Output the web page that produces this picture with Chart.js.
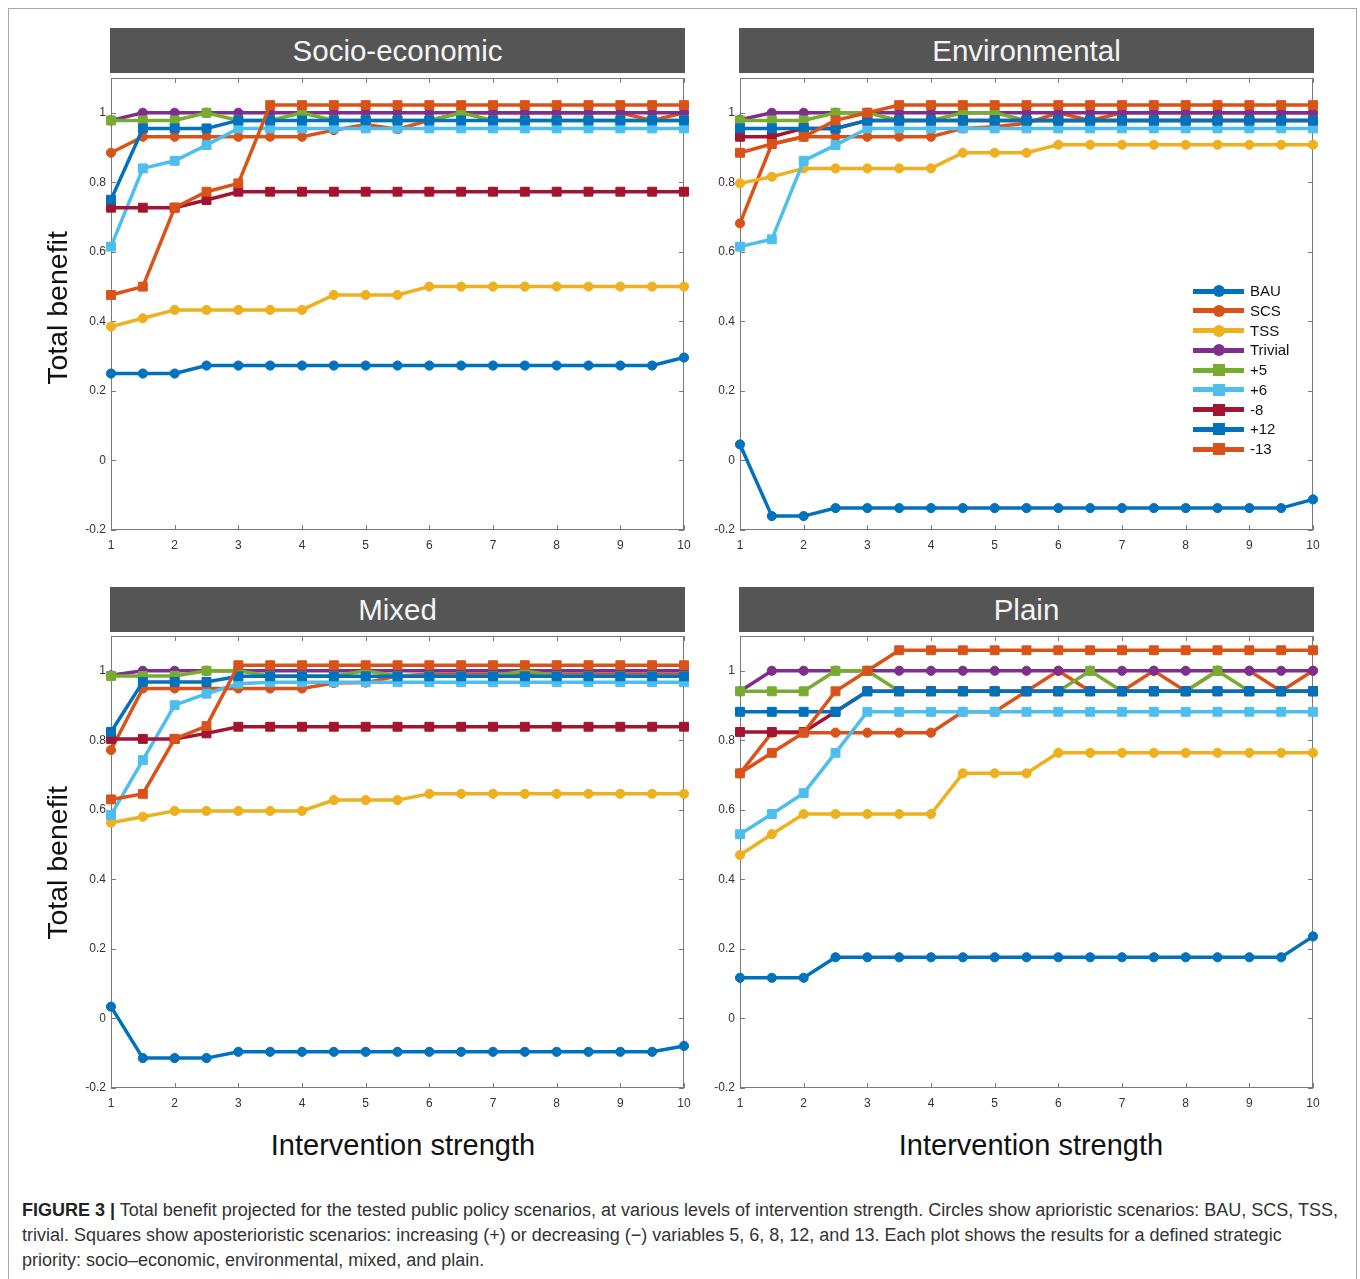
<!DOCTYPE html>
<html>
<head>
<meta charset="utf-8">
<script src="https://cdn.jsdelivr.net/npm/chart.js@4.4.1/dist/chart.umd.min.js"></script>
<style>
  body { margin: 0; background: #fff; font-family: "Liberation Sans", Arial, sans-serif; }
  #fig { position: relative; width: 1360px; height: 1279px; overflow: hidden; }
  .frame { position: absolute; left: 8px; top: 8px; width: 1347px; height: 1290px; border: 1px solid #a8a8a8; }
  .bar { position: absolute; height: 45px; background: #555; color: #f4f4f4; font-size: 29.5px; line-height: 45px; text-align: center; }
  .panel { position: absolute; width: 638px; height: 490px; }
  .ytitle { position: absolute; width: 300px; height: 34px; line-height: 34px; font-size: 28.5px; text-align: center; color: #111; transform: rotate(-90deg); white-space: nowrap; }
  .xtitle { position: absolute; width: 400px; height: 34px; line-height: 34px; font-size: 29px; text-align: center; color: #111; white-space: nowrap; }
  .legend { position: absolute; left: 1193px; top: 281px; }
  .legend .item { position: relative; height: 19.75px; }
  .legend .line { position: absolute; left: 0; top: 7.5px; width: 51px; height: 5px; }
  .legend .mk { position: absolute; left: 20px; top: 4px; width: 12px; height: 12px; }
  .legend .txt { position: absolute; left: 57px; top: 0; font-size: 15px; line-height: 20px; color: #111; white-space: nowrap; }
  .caption { position: absolute; left: 22px; top: 1198px; font-size: 18px; line-height: 25px; color: #333; white-space: nowrap; }
  .caption b { color: #222; }
</style>
</head>
<body>
<div id="fig">
  <div class="frame"></div>

  <div class="bar" style="left:110px;top:28px;width:575px;">Socio-economic</div>
  <div class="bar" style="left:739px;top:28px;width:575px;">Environmental</div>
  <div class="bar" style="left:110px;top:587px;width:575px;">Mixed</div>
  <div class="bar" style="left:739px;top:587px;width:575px;">Plain</div>

  <div class="panel" style="left:66px;top:70px;"><canvas id="socio" width="638" height="490"></canvas></div>
  <div class="panel" style="left:695px;top:70px;"><canvas id="env" width="638" height="490"></canvas></div>
  <div class="panel" style="left:66px;top:628px;"><canvas id="mixed" width="638" height="490"></canvas></div>
  <div class="panel" style="left:695px;top:628px;"><canvas id="plain" width="638" height="490"></canvas></div>

  <div class="ytitle" style="left:-93px;top:291px;">Total benefit</div>
  <div class="ytitle" style="left:-93px;top:846px;">Total benefit</div>
  <div class="xtitle" style="left:203px;top:1128px;">Intervention strength</div>
  <div class="xtitle" style="left:831px;top:1128px;">Intervention strength</div>

  <div class="legend" id="legend"></div>

  <div class="caption">
    <b>FIGURE 3 |</b> Total benefit projected for the tested public policy scenarios, at various levels of intervention strength. Circles show aprioristic scenarios: BAU, SCS, TSS,<br>
    trivial. Squares show aposterioristic scenarios: increasing (+) or decreasing (&minus;) variables 5, 6, 8, 12, and 13. Each plot shows the results for a defined strategic<br>
    priority: socio&ndash;economic, environmental, mixed, and plain.
  </div>
</div>

<script>
// intervention strength levels (x) and axis ticks
const xValues = [1, 1.5, 2, 2.5, 3, 3.5, 4, 4.5, 5, 5.5, 6, 6.5, 7, 7.5, 8, 8.5, 9, 9.5, 10];
const xTicks = [1, 2, 3, 4, 5, 6, 7, 8, 9, 10];
const yTicks = [-0.2, 0, 0.2, 0.4, 0.6, 0.8, 1];
const yTickLabels = ["-0.2", "0", "0.2", "0.4", "0.6", "0.8", "1"];

const seriesNames = ["BAU", "SCS", "TSS", "Trivial", "+5", "+6", "-8", "+12", "-13"];
const seriesColors = ["#0072BD", "#D95319", "#EDB120", "#7E2F8E", "#77AC30", "#4DBEEE", "#A2142F", "#0072BD", "#D95319"];
const seriesMarkers = ["circle", "circle", "circle", "circle", "rect", "rect", "rect", "rect", "rect"];

// Socio-economic
const socioBau     = [0.25, 0.25, 0.25, 0.273, 0.273, 0.273, 0.273, 0.273, 0.273, 0.273, 0.273, 0.273, 0.273, 0.273, 0.273, 0.273, 0.273, 0.273, 0.296];
const socioScs     = [0.885, 0.931, 0.931, 0.931, 0.931, 0.931, 0.931, 0.95, 0.966, 0.953, 0.978, 1.0, 1.0, 1.0, 1.0, 1.0, 1.0, 0.978, 1.0];
const socioTss     = [0.385, 0.409, 0.433, 0.433, 0.433, 0.433, 0.433, 0.476, 0.476, 0.476, 0.5, 0.5, 0.5, 0.5, 0.5, 0.5, 0.5, 0.5, 0.5];
const socioTrivial = [0.978, 1, 1, 1, 1, 1, 1, 1, 1, 1, 1, 1, 1, 1, 1, 1, 1, 1, 1];
const socioP5      = [0.978, 0.978, 0.978, 1.0, 0.978, 0.978, 1.0, 0.978, 0.978, 0.978, 0.978, 1.0, 0.978, 0.978, 0.978, 0.978, 0.978, 0.978, 0.978];
const socioP6      = [0.615, 0.84, 0.862, 0.907, 0.955, 0.955, 0.955, 0.955, 0.955, 0.955, 0.955, 0.955, 0.955, 0.955, 0.955, 0.955, 0.955, 0.955, 0.955];
const socioM8      = [0.727, 0.727, 0.727, 0.749, 0.773, 0.773, 0.773, 0.773, 0.773, 0.773, 0.773, 0.773, 0.773, 0.773, 0.773, 0.773, 0.773, 0.773, 0.773];
const socioP12     = [0.75, 0.955, 0.955, 0.955, 0.978, 0.978, 0.978, 0.978, 0.978, 0.978, 0.978, 0.978, 0.978, 0.978, 0.978, 0.978, 0.978, 0.978, 0.978];
const socioM13     = [0.476, 0.5, 0.727, 0.773, 0.797, 1.022, 1.022, 1.022, 1.022, 1.022, 1.022, 1.022, 1.022, 1.022, 1.022, 1.022, 1.022, 1.022, 1.022];

// Environmental
const envBau     = [0.046, -0.16, -0.16, -0.137, -0.137, -0.137, -0.137, -0.137, -0.137, -0.137, -0.137, -0.137, -0.137, -0.137, -0.137, -0.137, -0.137, -0.137, -0.112];
const envScs     = [0.682, 0.91, 0.931, 0.931, 0.931, 0.931, 0.931, 0.955, 0.96, 0.97, 1.0, 0.978, 1.0, 1.0, 1.0, 1.0, 1.0, 1.0, 1.0];
const envTss     = [0.797, 0.816, 0.84, 0.84, 0.84, 0.84, 0.84, 0.885, 0.885, 0.885, 0.908, 0.908, 0.908, 0.908, 0.908, 0.908, 0.908, 0.908, 0.908];
const envTrivial = [0.98, 1, 1, 1, 1, 1, 1, 1, 1, 1, 1, 1, 1, 1, 1, 1, 1, 1, 1];
const envP5      = [0.978, 0.978, 0.978, 1.0, 1.0, 0.978, 0.978, 1.0, 1.0, 0.978, 0.978, 0.978, 0.978, 0.978, 0.978, 0.978, 0.978, 0.978, 0.978];
const envP6      = [0.615, 0.636, 0.862, 0.907, 0.955, 0.955, 0.955, 0.955, 0.955, 0.955, 0.955, 0.955, 0.955, 0.955, 0.955, 0.955, 0.955, 0.955, 0.955];
const envM8      = [0.931, 0.931, 0.955, 0.955, 0.978, 0.978, 0.978, 0.978, 0.978, 0.978, 0.978, 0.978, 0.978, 0.978, 0.978, 0.978, 0.978, 0.978, 0.978];
const envP12     = [0.955, 0.955, 0.955, 0.955, 0.978, 0.978, 0.978, 0.978, 0.978, 0.978, 0.978, 0.978, 0.978, 0.978, 0.978, 0.978, 0.978, 0.978, 0.978];
const envM13     = [0.885, 0.91, 0.931, 0.978, 1.0, 1.022, 1.022, 1.022, 1.022, 1.022, 1.022, 1.022, 1.022, 1.022, 1.022, 1.022, 1.022, 1.022, 1.022];

// Mixed
const mixedBau     = [0.034, -0.114, -0.114, -0.114, -0.096, -0.096, -0.096, -0.096, -0.096, -0.096, -0.096, -0.096, -0.096, -0.096, -0.096, -0.096, -0.096, -0.096, -0.079];
const mixedScs     = [0.772, 0.949, 0.949, 0.949, 0.949, 0.949, 0.949, 0.965, 0.966, 0.985, 0.99, 0.99, 0.99, 0.99, 0.99, 0.99, 0.99, 0.99, 0.99];
const mixedTss     = [0.563, 0.58, 0.597, 0.597, 0.597, 0.597, 0.597, 0.628, 0.628, 0.628, 0.646, 0.646, 0.646, 0.646, 0.646, 0.646, 0.646, 0.646, 0.646];
const mixedTrivial = [0.987, 1, 1, 1, 1, 1, 1, 1, 1, 1, 1, 1, 1, 1, 1, 1, 1, 1, 1];
const mixedP5      = [0.985, 0.985, 0.985, 1.0, 1.0, 0.985, 0.985, 0.985, 1.0, 0.985, 0.985, 0.985, 0.985, 1.0, 0.985, 0.985, 0.985, 0.985, 0.985];
const mixedP6      = [0.585, 0.743, 0.901, 0.934, 0.963, 0.967, 0.967, 0.967, 0.967, 0.967, 0.967, 0.967, 0.967, 0.967, 0.967, 0.967, 0.967, 0.967, 0.967];
const mixedM8      = [0.804, 0.804, 0.804, 0.82, 0.839, 0.839, 0.839, 0.839, 0.839, 0.839, 0.839, 0.839, 0.839, 0.839, 0.839, 0.839, 0.839, 0.839, 0.839];
const mixedP12     = [0.824, 0.968, 0.968, 0.968, 0.984, 0.984, 0.984, 0.984, 0.984, 0.984, 0.984, 0.984, 0.984, 0.984, 0.984, 0.984, 0.984, 0.984, 0.984];
const mixedM13     = [0.63, 0.646, 0.804, 0.841, 1.016, 1.016, 1.016, 1.016, 1.016, 1.016, 1.016, 1.016, 1.016, 1.016, 1.016, 1.016, 1.016, 1.016, 1.016];

// Plain
const plainBau     = [0.117, 0.117, 0.117, 0.176, 0.176, 0.176, 0.176, 0.176, 0.176, 0.176, 0.176, 0.176, 0.176, 0.176, 0.176, 0.176, 0.176, 0.176, 0.236];
const plainScs     = [0.705, 0.822, 0.822, 0.822, 0.822, 0.822, 0.822, 0.882, 0.882, 0.941, 1.0, 0.941, 0.941, 1.0, 0.941, 1.0, 1.0, 0.941, 1.0];
const plainTss     = [0.47, 0.53, 0.588, 0.588, 0.588, 0.588, 0.588, 0.705, 0.705, 0.705, 0.764, 0.764, 0.764, 0.764, 0.764, 0.764, 0.764, 0.764, 0.764];
const plainTrivial = [0.941, 1, 1, 1, 1, 1, 1, 1, 1, 1, 1, 1, 1, 1, 1, 1, 1, 1, 1];
const plainP5      = [0.941, 0.941, 0.941, 1.0, 1.0, 0.941, 0.941, 0.941, 0.941, 0.941, 0.941, 1.0, 0.941, 0.941, 0.941, 1.0, 0.941, 0.941, 0.941];
const plainP6      = [0.53, 0.588, 0.648, 0.764, 0.882, 0.882, 0.882, 0.882, 0.882, 0.882, 0.882, 0.882, 0.882, 0.882, 0.882, 0.882, 0.882, 0.882, 0.882];
const plainM8      = [0.824, 0.824, 0.824, 0.882, 0.941, 0.941, 0.941, 0.941, 0.941, 0.941, 0.941, 0.941, 0.941, 0.941, 0.941, 0.941, 0.941, 0.941, 0.941];
const plainP12     = [0.882, 0.882, 0.882, 0.882, 0.941, 0.941, 0.941, 0.941, 0.941, 0.941, 0.941, 0.941, 0.941, 0.941, 0.941, 0.941, 0.941, 0.941, 0.941];
const plainM13     = [0.705, 0.764, 0.822, 0.941, 1.0, 1.059, 1.059, 1.059, 1.059, 1.059, 1.059, 1.059, 1.059, 1.059, 1.059, 1.059, 1.059, 1.059, 1.059];

const FONT = "'Liberation Sans', Arial, sans-serif";

// matlab-ish box with inward ticks on all four sides
const boxPlugin = {
  id: "matlabBox",
  beforeDatasetsDraw(chart) {
    const { ctx, chartArea: a, scales } = chart;
    const tick = 5;
    ctx.save();
    ctx.strokeStyle = "#7a7a7a";
    ctx.lineWidth = 1;
    ctx.strokeRect(a.left + 0.5, a.top + 0.5, a.right - a.left - 1, a.bottom - a.top - 1);
    ctx.beginPath();
    xTicks.forEach((v) => {
      const px = Math.round(scales.x.getPixelForValue(v)) + 0.5;
      ctx.moveTo(px, a.bottom); ctx.lineTo(px, a.bottom - tick);
      ctx.moveTo(px, a.top); ctx.lineTo(px, a.top + tick);
    });
    yTicks.forEach((v) => {
      const py = Math.round(scales.y.getPixelForValue(v)) + 0.5;
      ctx.moveTo(a.left, py); ctx.lineTo(a.left + tick, py);
      ctx.moveTo(a.right, py); ctx.lineTo(a.right - tick, py);
    });
    ctx.stroke();
    ctx.restore();
  },
};

function makePanel(canvasId, series) {
  const datasets = seriesNames.map((name, i) => ({
    label: name,
    data: xValues.map((x, k) => ({ x, y: series[i][k] })),
    borderColor: seriesColors[i],
    backgroundColor: seriesColors[i],
    borderWidth: 3.5,
    pointStyle: seriesMarkers[i],
    pointRadius: seriesMarkers[i] === "circle" ? 4.6 : 6.3,
    pointBorderWidth: 1,
    pointBorderColor: seriesColors[i],
    pointBackgroundColor: seriesColors[i],
    tension: 0,
    clip: false,
    // later series sit on top, like the original plot
    order: seriesNames.length - i,
  }));

  return new Chart(document.getElementById(canvasId), {
    type: "line",
    data: { datasets },
    options: {
      responsive: false,
      animation: false,
      layout: { padding: { top: 8, right: 20, left: 0, bottom: 0 } },
      plugins: { legend: { display: false }, tooltip: { enabled: false } },
      scales: {
        x: {
          type: "linear",
          min: 1,
          max: 10,
          afterBuildTicks: (s) => { s.ticks = xTicks.map((v) => ({ value: v })); },
          afterFit: (s) => { s.height = 30; s.paddingLeft = 0; s.paddingRight = 0; },
          grid: { display: false, drawTicks: false },
          border: { display: false },
          ticks: { autoSkip: false, maxRotation: 0, padding: 8, color: "#333", font: { family: FONT, size: 12 } },
        },
        y: {
          type: "linear",
          min: -0.2,
          max: 1.1,
          afterBuildTicks: (s) => { s.ticks = yTicks.map((v) => ({ value: v })); },
          // keep the plot box exactly where the original has it
          afterFit: (s) => { s.width = 45; s.paddingTop = 0; s.paddingBottom = 0; },
          grid: { display: false, drawTicks: false },
          border: { display: false },
          ticks: {
            padding: 5,
            color: "#333",
            font: { family: FONT, size: 12 },
            callback: (v) => yTickLabels[yTicks.indexOf(v)],
          },
        },
      },
    },
    plugins: [boxPlugin],
  });
}

makePanel("socio", [socioBau, socioScs, socioTss, socioTrivial, socioP5, socioP6, socioM8, socioP12, socioM13]);
makePanel("env", [envBau, envScs, envTss, envTrivial, envP5, envP6, envM8, envP12, envM13]);
makePanel("mixed", [mixedBau, mixedScs, mixedTss, mixedTrivial, mixedP5, mixedP6, mixedM8, mixedP12, mixedM13]);
makePanel("plain", [plainBau, plainScs, plainTss, plainTrivial, plainP5, plainP6, plainM8, plainP12, plainM13]);

// legend lives inside the Environmental panel
const legend = document.getElementById("legend");
seriesNames.forEach((name, i) => {
  const item = document.createElement("div");
  item.className = "item";
  const radius = seriesMarkers[i] === "circle" ? "50%" : "0";
  item.innerHTML =
    '<div class="line" style="background:' + seriesColors[i] + '"></div>' +
    '<div class="mk" style="background:' + seriesColors[i] + ';border-radius:' + radius + '"></div>' +
    '<div class="txt">' + name + "</div>";
  legend.appendChild(item);
});
</script>
</body>
</html>
